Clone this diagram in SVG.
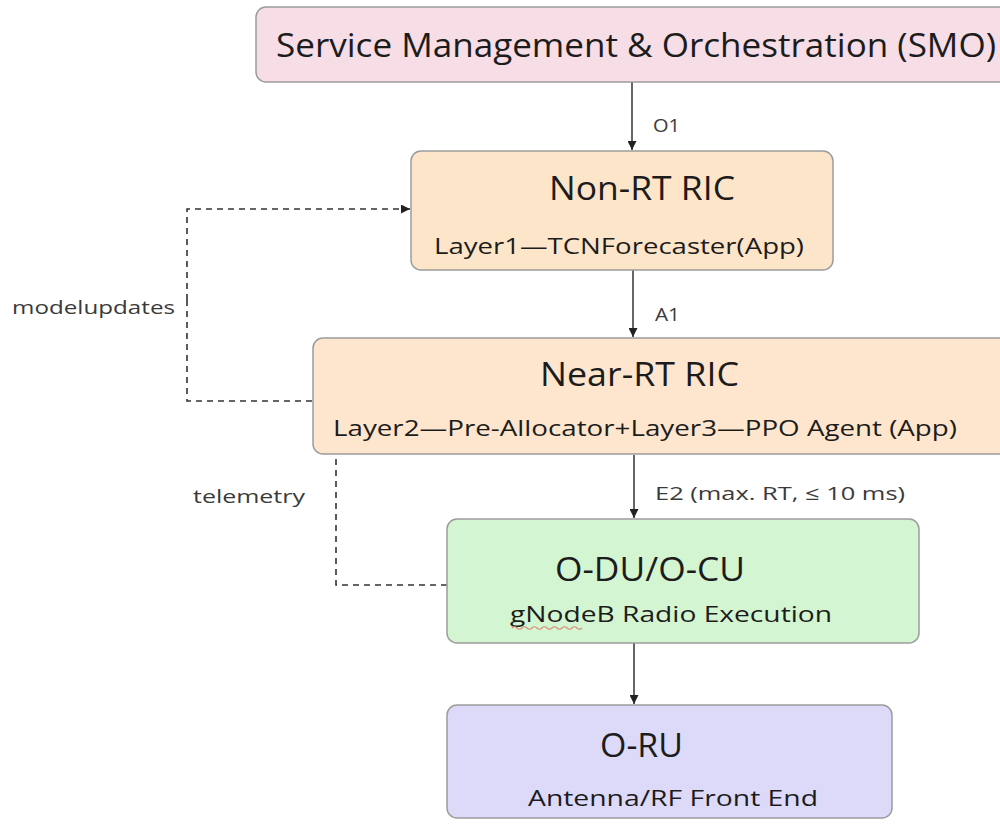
<svg xmlns="http://www.w3.org/2000/svg" width="1000" height="828" viewBox="0 0 1000 828">
<defs>
<marker id="ah" viewBox="0 0 10 10" refX="10" refY="5" markerWidth="9" markerHeight="9" markerUnits="userSpaceOnUse" orient="auto">
<path d="M0,0 L10,5 L0,10 z" fill="#222"/>
</marker>
<style>
.box{stroke:#9c9c9c;stroke-width:1.5}
.t{font-family:"Open Sans","Noto Sans","DejaVu Sans",sans-serif;fill:#1c1c1c}
.title{font-size:32px}
.sub{font-size:22px}
.lbl{font-size:19px;fill:#3a3a3a}
.conn{stroke:#333;stroke-width:1.5;fill:none}
.dash{stroke:#333;stroke-width:1.6;fill:none;stroke-dasharray:6,5}
</style>
</defs>
<rect width="1000" height="828" fill="#ffffff"/>
<g id="connectors">
<line class="conn" x1="632" y1="82" x2="632" y2="150" marker-end="url(#ah)"/>
<line class="conn" x1="633" y1="270" x2="633" y2="337" marker-end="url(#ah)"/>
<line class="conn" x1="634" y1="455" x2="634" y2="518" marker-end="url(#ah)"/>
<line class="conn" x1="634" y1="643" x2="634" y2="704" marker-end="url(#ah)"/>
<path class="dash" d="M187,300 V209 H410" marker-end="url(#ah)"/>
<path class="dash" d="M187,300 V401 H332" marker-end="url(#ah)"/>
<path class="dash" d="M447,585 H336 V406"/>
<text class="t lbl" x="653" y="132" textLength="27" lengthAdjust="spacingAndGlyphs">O1</text>
<text class="t lbl" x="655" y="321" textLength="25" lengthAdjust="spacingAndGlyphs">A1</text>
<text class="t lbl" x="655" y="500" textLength="250" lengthAdjust="spacingAndGlyphs">E2 (max. RT, ≤ 10 ms)</text>
<text class="t lbl" x="12" y="314" font-size="20" textLength="163" lengthAdjust="spacingAndGlyphs">modelupdates</text>
<text class="t lbl" x="193" y="503" font-size="20" textLength="112" lengthAdjust="spacingAndGlyphs">telemetry</text>
</g>
<g id="smo">
<rect class="box" x="256" y="7" width="770" height="75" rx="10" fill="#f6dde6"/>
<text class="t" x="276" y="57" font-size="32" textLength="720" lengthAdjust="spacingAndGlyphs">Service Management &amp; Orchestration (SMO)</text>
</g>
<g id="nonrt">
<rect class="box" x="411" y="151" width="422" height="119" rx="10" fill="#fde5c9"/>
<text class="t title" x="549" y="200" textLength="186" lengthAdjust="spacingAndGlyphs">Non-RT RIC</text>
<text class="t sub" x="434" y="254" textLength="370" lengthAdjust="spacingAndGlyphs">Layer1—TCNForecaster(App)</text>
</g>
<g id="nearrt">
<rect class="box" x="313" y="338" width="710" height="116" rx="10" fill="#fde6cd"/>
<text class="t title" x="540" y="386" textLength="199" lengthAdjust="spacingAndGlyphs">Near-RT RIC</text>
<text class="t sub" x="333" y="436" textLength="624" lengthAdjust="spacingAndGlyphs">Layer2—Pre-Allocator+Layer3—PPO Agent (App)</text>
</g>
<g id="odu">
<rect class="box" x="447" y="519" width="472" height="124" rx="10" fill="#d4f5d1"/>
<text class="t title" x="555" y="581" textLength="190" lengthAdjust="spacingAndGlyphs">O-DU/O-CU</text>
<text class="t sub" x="510" y="622" textLength="322" lengthAdjust="spacingAndGlyphs">gNodeB Radio Execution</text>
<path d="M512,628 q2.5,-2.5 5,0 t5,0 t5,0 t5,0 t5,0 t5,0 t5,0 t5,0 t5,0 t5,0 t5,0 t5,0 t5,0 t5,0" fill="none" stroke="#d88a7a" stroke-width="1.1"/>
</g>
<g id="oru">
<rect class="box" x="447" y="705" width="445" height="113" rx="10" fill="#dcdaf8"/>
<text class="t title" x="600" y="757" textLength="83" lengthAdjust="spacingAndGlyphs">O-RU</text>
<text class="t sub" x="528" y="806" textLength="290" lengthAdjust="spacingAndGlyphs">Antenna/RF Front End</text>
</g>
</svg>
